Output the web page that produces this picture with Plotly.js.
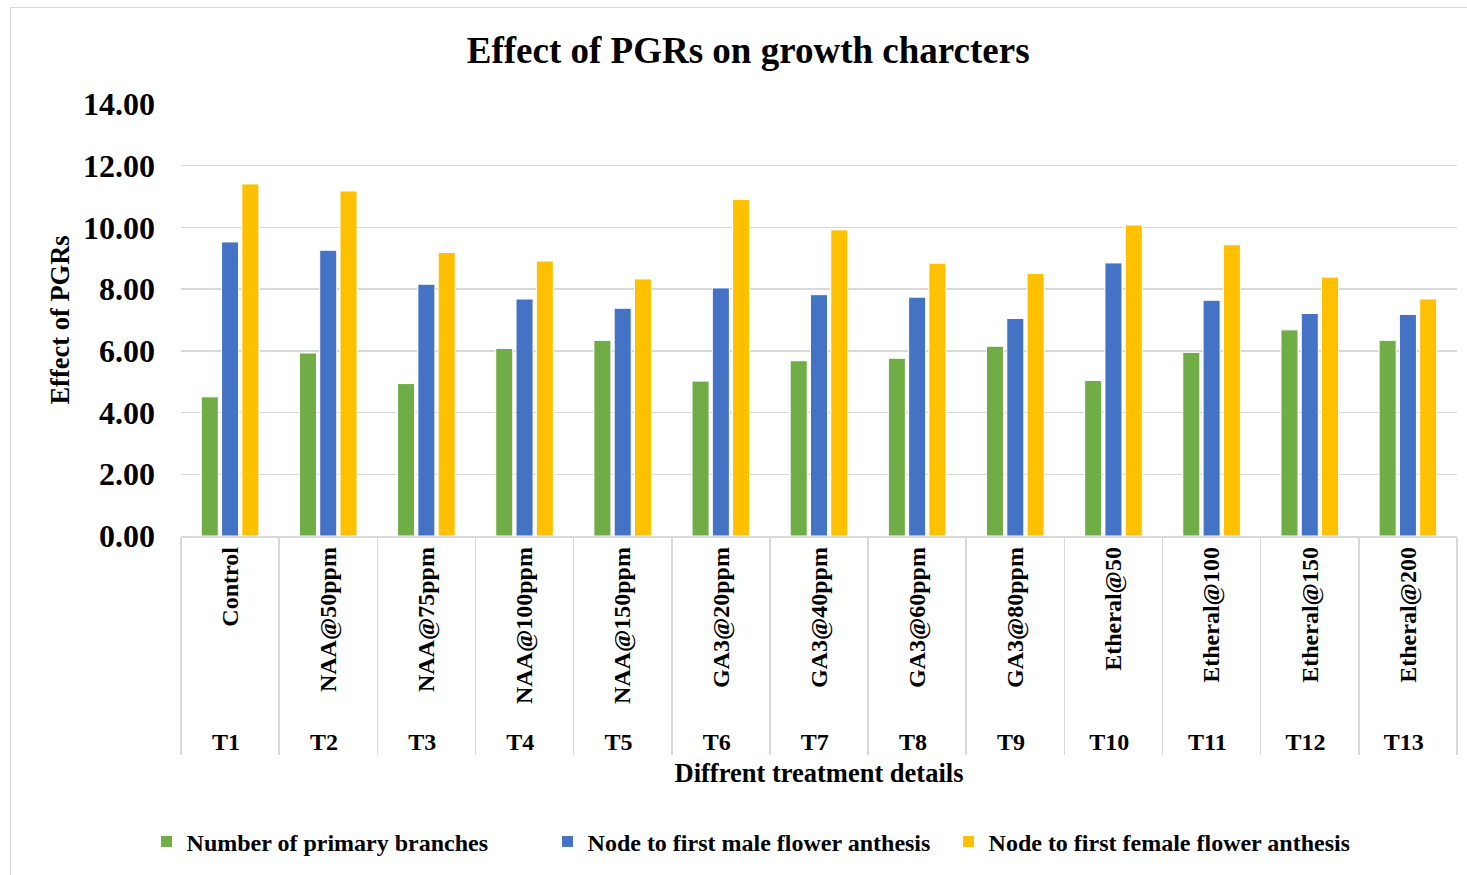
<!DOCTYPE html>
<html>
<head>
<meta charset="utf-8">
<script src="https://cdn.plot.ly/plotly-3.0.1.min.js"></script>
<style>
  html, body { margin: 0; padding: 0; background: #fff; }
  #chart { width: 1467px; height: 875px; }
  #frame { position: absolute; left: 10px; top: 7px; width: 1460px; height: 875px; border: 1px solid #d9d9d9; pointer-events: none; }
</style>
</head>
<body>
<div id="chart"></div>
<div id="frame"></div>
<script>
const treatments = ["Control","NAA@50ppm","NAA@75ppm","NAA@100ppm","NAA@150ppm","GA3@20ppm","GA3@40ppm","GA3@60ppm","GA3@80ppm","Etheral@50","Etheral@100","Etheral@150","Etheral@200"];
const codes = ["T1","T2","T3","T4","T5","T6","T7","T8","T9","T10","T11","T12","T13"];
const primaryBranches = [4.51, 5.93, 4.94, 6.08, 6.34, 5.02, 5.68, 5.76, 6.15, 5.04, 5.95, 6.68, 6.34];
const maleNode = [9.53, 9.26, 8.16, 7.68, 7.38, 8.04, 7.82, 7.74, 7.05, 8.85, 7.64, 7.21, 7.18];
const femaleNode = [11.41, 11.18, 9.19, 8.91, 8.33, 10.91, 9.92, 8.84, 8.51, 10.08, 9.44, 8.39, 7.68];
const seriesNames = ["Number of primary branches","Node to first male flower anthesis","Node to first female flower anthesis"];
const colors = ["#70AD47","#4472C4","#FFC000"];

const FONT = "Liberation Serif, 'Times New Roman', serif";
const xcat = [codes, treatments];
const data = [primaryBranches, maleNode, femaleNode].map((vals, i) => ({
  type: "bar",
  x: xcat,
  y: vals,
  name: seriesNames[i],
  marker: { color: colors[i], line: { color: "#ffffff", width: 1 } },
  hoverinfo: "y+name"
}));

const layout = {
  width: 1467, height: 875,
  margin: { l: 181, r: 10, t: 104, b: 339 },
  paper_bgcolor: "#ffffff", plot_bgcolor: "#ffffff",
  font: { family: FONT, color: "#000", weight: 700 },
  title: { text: "Effect of PGRs on growth charcters", font: { family: FONT, size: 37, weight: 700, color: "#000" }, x: 0.51, xanchor: "center", y: 0.943, yanchor: "middle" },
  bargap: 0.38, bargroupgap: 0.16,
  barmode: "group",
  xaxis: {
    type: "multicategory",
    automargin: false,
    tickangle: -90,
    tickfont: { family: FONT, size: 24, weight: 700, color: "#000" },
    showline: true, linecolor: "#d9d9d9", linewidth: 1.5,
    showdividers: true, dividercolor: "#d9d9d9", dividerwidth: 1.5,
    ticks: "",
    title: { text: "Diffrent treatment details", font: { family: FONT, size: 26.5, weight: 700, color: "#000" }, standoff: 10 }
  },
  yaxis: {
    automargin: false,
    range: [0, 14], dtick: 2, tickformat: ".2f",
    showgrid: true, gridcolor: "#d9d9d9", gridwidth: 1.5,
    zeroline: false, showline: false,
    tickfont: { family: FONT, size: 32, weight: 700, color: "#000" },
    ticklabelstandoff: 25,
    title: { text: "Effect of PGRs", font: { family: FONT, size: 26.5, weight: 700, color: "#000" }, standoff: 5 }
  },
  legend: {
    orientation: "h", x: -0.027, xanchor: "left", y: -0.708, yanchor: "middle",
    font: { family: FONT, size: 24, weight: 700, color: "#000" },
    itemwidth: 30, entrywidth: 356, entrywidthmode: "pixels", traceorder: "normal"
  },
  showlegend: true
};

Plotly.newPlot("chart", data, layout, { displayModeBar: false, staticPlot: true });
</script>
</body>
</html>
